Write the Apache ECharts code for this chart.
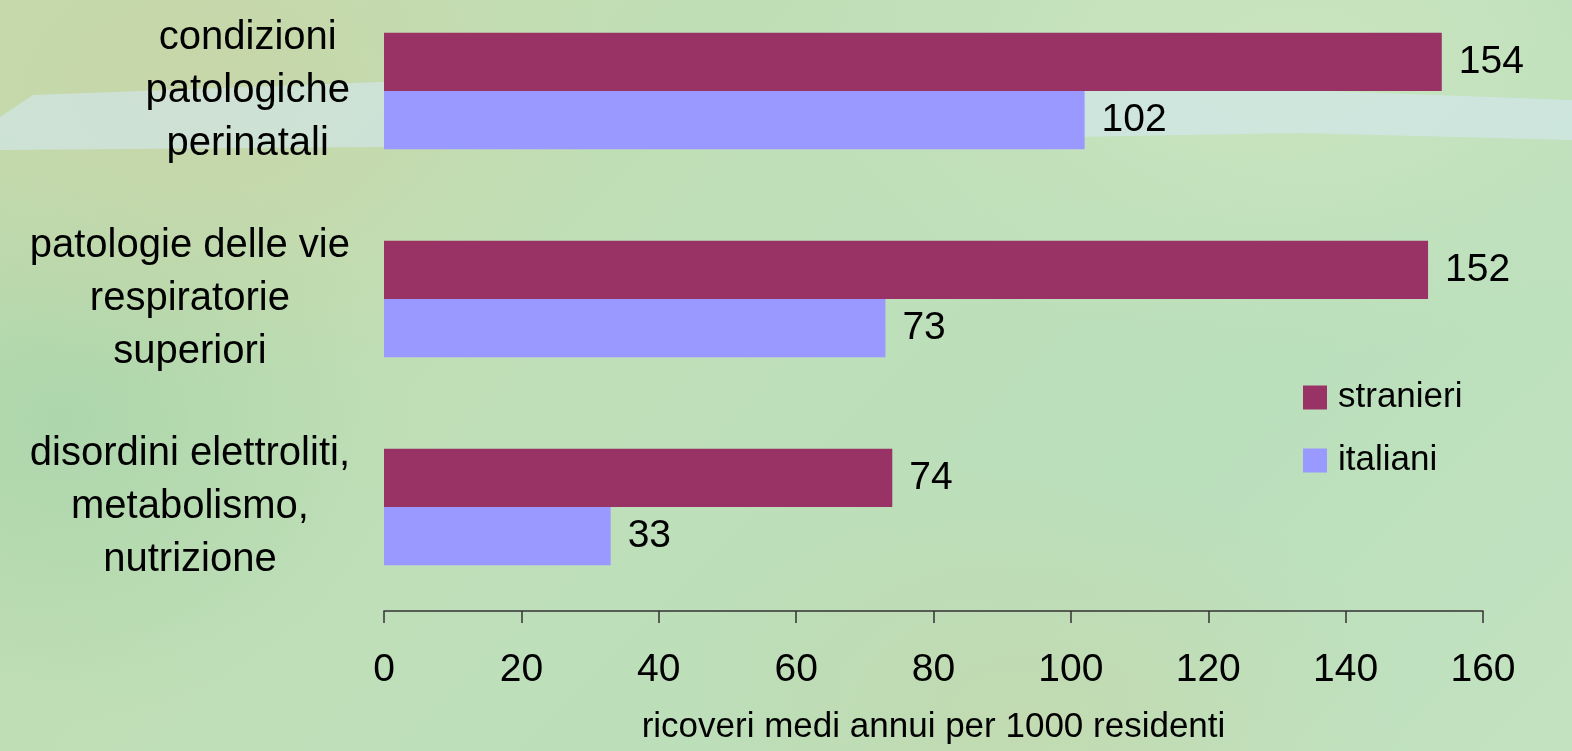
<!DOCTYPE html>
<html>
<head>
<meta charset="utf-8">
<script src="https://cdn.jsdelivr.net/npm/echarts@6/dist/echarts.min.js"></script>
<style>
html,body{margin:0;padding:0;width:1572px;height:751px;overflow:hidden;}
#bg{position:absolute;left:0;top:0;width:1572px;height:751px;
background:
 radial-gradient(ellipse 420px 300px at 200px 90px, rgba(200,212,165,0.75), rgba(200,212,165,0) 100%),
 radial-gradient(ellipse 380px 260px at 1020px 720px, rgba(198,215,170,0.6), rgba(198,215,170,0) 100%),
 radial-gradient(ellipse 500px 300px at 1300px 60px, rgba(205,230,192,0.8), rgba(205,230,192,0) 100%),
 radial-gradient(ellipse 350px 300px at 60px 420px, rgba(168,212,170,0.8), rgba(168,212,170,0) 100%),
 linear-gradient(135deg, #c4dcae 0%, #bfdfb8 40%, #badfbb 70%, #c3e2c0 100%);}
#chart{position:absolute;left:0;top:-13px;width:1572px;height:764px;}
</style>
</head>
<body>
<div id="bg"></div>
<div id="chart"></div>
<script>
const categories = [
  "condizioni\npatologiche\nperinatali",
  "patologie delle vie\nrespiratorie\nsuperiori",
  "disordini elettroliti,\nmetabolismo,\nnutrizione"
];
const stranieri = [154, 152, 74];
const italiani = [102, 73, 33];
const xTicks = [0, 20, 40, 60, 80, 100, 120, 140, 160];
const axisName = "ricoveri medi annui per 1000 residenti";

const FONT = "'Liberation Sans', Arial, Helvetica, sans-serif";
const OY = 13; // chart canvas is shifted up by this many px
const chart = echarts.init(document.getElementById('chart'));
const band = [[0,117],[33,95],[380,82],[900,85],[1300,90],[1572,100],[1572,140],[1300,133],[900,140],[380,147],[0,150]]
  .map(p => [p[0], p[1] + OY]);
chart.setOption({
  backgroundColor: 'transparent',
  animation: false,
  textStyle: {fontFamily: FONT, color: '#000'},
  graphic: [{
    type: 'polygon', z: -10, silent: true,
    shape: {points: band},
    style: {fill: 'rgba(212,232,242,0.6)'}
  }],
  legend: {
    orient: 'vertical', left: 1298, top: 375 + OY,
    itemWidth: 24, itemHeight: 24, itemGap: 28,
    icon: 'rect',
    textStyle: {fontSize: 35, fontFamily: FONT, color: '#000', padding: [0,0,0,6]},
    data: ['stranieri', 'italiani']
  },
  grid: {left: 384, right: 89, top: 0, height: 624, containLabel: false},
  xAxis: {
    type: 'value', min: xTicks[0], max: xTicks[xTicks.length-1], interval: 20,
    position: 'bottom',
    name: axisName, nameLocation: 'middle', nameGap: 99,
    nameTextStyle: {fontSize: 35, fontFamily: FONT, color: '#000'},
    axisLine: {show: true, lineStyle: {color: '#333', width: 1.5}},
    axisTick: {show: true, inside: false, length: 12, lineStyle: {color: '#333', width: 1.5}},
    axisLabel: {fontSize: 39, fontFamily: FONT, color: '#000', margin: 40},
    splitLine: {show: false}
  },
  yAxis: {
    type: 'category', inverse: true, data: categories,
    axisLine: {show: false}, axisTick: {show: false},
    axisLabel: {
      align: 'right', margin: 34,
      formatter: function (v) { return v.split('\n').map(s => '{c|' + s + '}').join('\n'); },
      rich: {c: {align: 'center', fontSize: 40, lineHeight: 53, fontFamily: FONT, color: '#000'}}
    }
  },
  series: [
    {
      name: 'stranieri', type: 'bar', data: stranieri,
      barGap: '0%', barCategoryGap: '44%',
      itemStyle: {color: '#993366'},
      label: {show: true, position: 'right', distance: 17, fontSize: 39, fontFamily: FONT, color: '#000'}
    },
    {
      name: 'italiani', type: 'bar', data: italiani,
      barGap: '0%', barCategoryGap: '44%',
      itemStyle: {color: '#9999ff'},
      label: {show: true, position: 'right', distance: 17, fontSize: 39, fontFamily: FONT, color: '#000'}
    }
  ]
});
</script>
</body>
</html>
